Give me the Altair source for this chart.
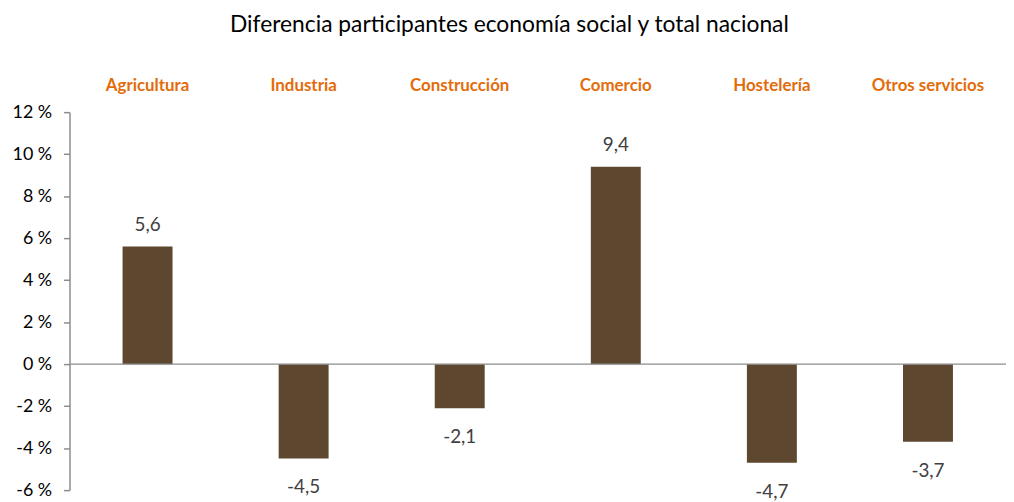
import altair as alt
import pandas as pd

categories = ["Agricultura", "Industria", "Construcción", "Comercio", "Hostelería", "Otros servicios"]
values = [5.6, -4.5, -2.1, 9.4, -4.7, -3.7]
y_ticks = [-6, -4, -2, 0, 2, 4, 6, 8, 10, 12]

df = pd.DataFrame({"cat": categories, "val": values})
df["lab"] = [f"{v:.1f}".replace(".", ",") for v in values]

FONT = "Lato"
BAR = "#5D472E"
ORANGE = "#E36C0A"

x = alt.X("cat:N", sort=categories,
          scale=alt.Scale(paddingInner=0.68, paddingOuter=0.34),
          axis=alt.Axis(orient="top", title=None, domain=False, ticks=False,
                        labelAngle=0, labelFont=FONT, labelFontSize=17,
                        labelFontWeight="bold", labelColor=ORANGE, labelPadding=18))
y = alt.Y("val:Q", scale=alt.Scale(domain=[-6, 12], nice=False, zero=False),
          axis=alt.Axis(title=None, values=y_ticks, grid=False,
                        labelExpr="datum.value + ' %'", labelFont=FONT,
                        labelFontSize=18, labelColor="#000000", labelPadding=12,
                        tickSize=6, tickColor="#8C8C8C", domainColor="#8C8C8C",
                        domainWidth=1.5, tickWidth=1.5))

base = alt.Chart(df)
bars = base.mark_bar(color=BAR).encode(x=x, y=y, y2=alt.datum(0))
zero = alt.Chart(pd.DataFrame({"z": [0]})).mark_rule(color="#8C8C8C", strokeWidth=1.5).encode(
    y=alt.Y("z:Q", scale=alt.Scale(domain=[-6, 12], nice=False, zero=False))
)
pos = base.transform_filter("datum.val >= 0").mark_text(
    baseline="bottom", dy=-12, font=FONT, fontSize=19, color="#404040"
).encode(x=x, y=y, text="lab:N")
neg = base.transform_filter("datum.val < 0").mark_text(
    baseline="top", dy=20, font=FONT, fontSize=19, color="#404040"
).encode(x=x, y=y, text="lab:N")

chart = alt.layer(bars, zero, pos, neg).properties(
    width=944, height=381,
    title=alt.TitleParams("Diferencia participantes economía social y total nacional",
                          font=FONT, fontSize=23, fontWeight="normal", color="#000000",
                          anchor="middle", frame="bounds", offset=40),
    autosize=alt.AutoSizeParams(type="none"),
    padding={"left": 62, "top": 103, "right": 0, "bottom": 10},
).configure_view(stroke=None)

chart.save("out.html", embed_options={"renderer": "svg", "actions": False})
